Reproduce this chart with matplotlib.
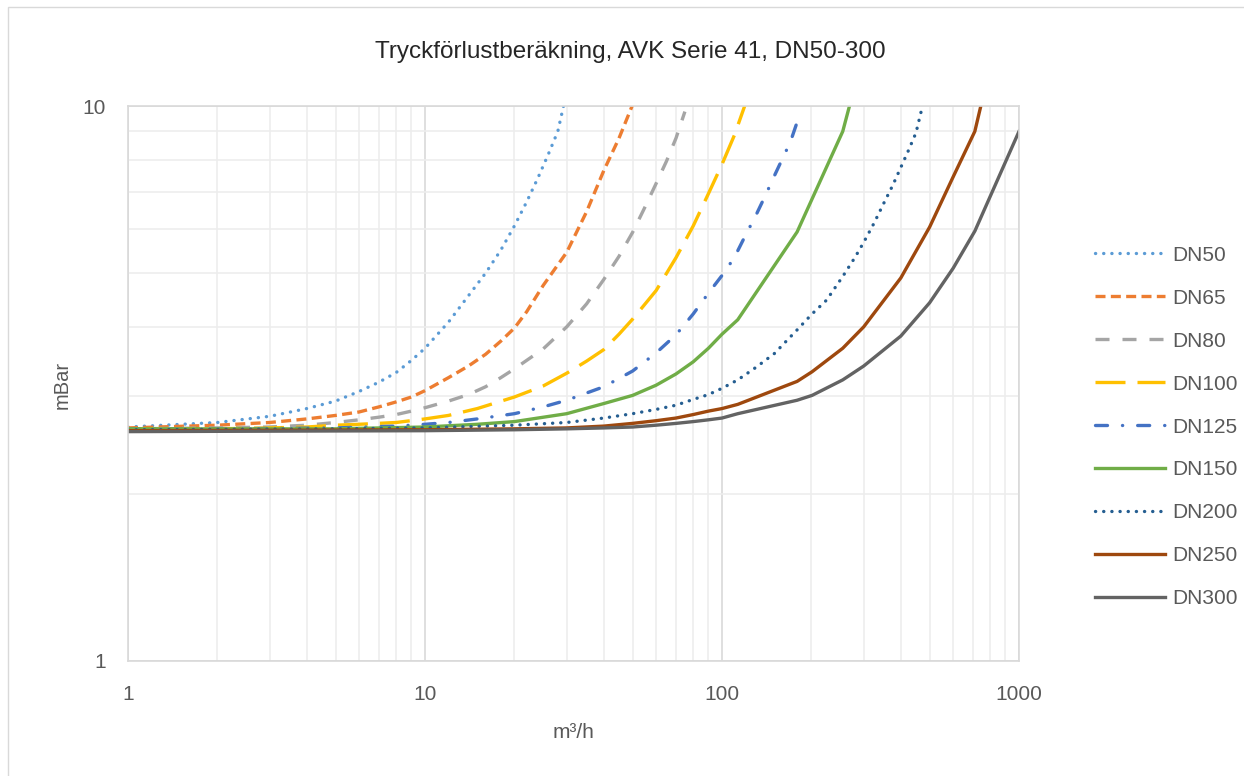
import matplotlib
matplotlib.use("Agg")
import matplotlib.pyplot as plt
from matplotlib.patches import Rectangle
from matplotlib.ticker import LogLocator, NullFormatter

plt.rcParams['font.family'] = ['Liberation Sans', 'DejaVu Sans']

# --- data (flow m3/h, pressure drop mBar) ---
names = ["DN50", "DN65", "DN80", "DN100", "DN125", "DN150", "DN200", "DN250", "DN300"]

q50 = [1, 2, 3, 4, 5, 6, 7, 8, 9, 10, 12, 14, 16, 18, 20, 22, 24, 26, 28, 30]
p50 = [2.64, 2.69, 2.76, 2.85, 2.94, 3.06, 3.18, 3.31, 3.48, 3.66, 4.08, 4.55, 5.00, 5.50,
       6.08, 6.72, 7.42, 8.18, 9.00, 10.6]

q65 = [1, 2, 3, 4, 5, 6, 7, 8, 9, 10, 12, 14, 16, 18, 20, 22, 25, 30, 35, 40, 45, 50]
p65 = [2.63, 2.66, 2.69, 2.73, 2.77, 2.81, 2.87, 2.93, 2.99, 3.07, 3.24, 3.40, 3.57, 3.77,
       3.98, 4.26, 4.75, 5.45, 6.45, 7.65, 8.75, 10.05]

q80 = [1, 2, 3, 4, 5, 6, 7, 8, 9, 10, 12, 14, 16, 18, 20, 25, 30, 35, 40, 45, 50, 55, 60,
       65, 70, 75]
p80 = [2.62, 2.63, 2.64, 2.66, 2.69, 2.72, 2.75, 2.78, 2.82, 2.86, 2.94, 3.02, 3.12, 3.24,
       3.36, 3.65, 4.00, 4.40, 4.87, 5.36, 5.92, 6.57, 7.25, 7.95, 8.75, 9.77]

q100 = [1, 2, 3, 4, 5, 6, 8, 10, 12, 15, 20, 25, 30, 35, 40, 45, 50, 60, 70, 80, 90, 100,
        110, 120]
p100 = [2.62, 2.62, 2.63, 2.64, 2.66, 2.67, 2.69, 2.73, 2.77, 2.85, 2.99, 3.13, 3.30, 3.47,
        3.64, 3.88, 4.13, 4.65, 5.33, 6.08, 6.95, 7.85, 8.85, 10.1]

q125 = [1, 2, 5, 8, 10, 12, 15, 20, 25, 30, 40, 50, 60, 70, 80, 90, 100, 110, 120, 130,
        140, 150, 160, 170, 183]
p125 = [2.62, 2.62, 2.63, 2.65, 2.67, 2.69, 2.73, 2.79, 2.87, 2.95, 3.12, 3.33, 3.59, 3.87,
        4.22, 4.60, 4.95, 5.33, 5.85, 6.35, 6.90, 7.48, 8.05, 8.62, 9.68]

q150 = [1, 5, 10, 15, 20, 30, 40, 50, 60, 70, 80, 90, 100, 113, 179, 255, 270]
p150 = [2.62, 2.62, 2.64, 2.67, 2.70, 2.79, 2.91, 3.01, 3.14, 3.29, 3.46, 3.66, 3.88, 4.12,
        5.93, 9.0, 10.1]

q200 = [1, 5, 10, 20, 30, 40, 50, 60, 70, 80, 90, 100, 113, 130, 150, 179, 201, 225, 255,
        280, 300, 325, 350, 375, 400, 425, 450, 470]
p200 = [2.61, 2.62, 2.63, 2.66, 2.69, 2.74, 2.79, 2.84, 2.89, 2.96, 3.02, 3.10, 3.21, 3.38,
        3.58, 3.95, 4.22, 4.47, 4.93, 5.33, 5.68, 6.15, 6.67, 7.18, 7.75, 8.33, 8.95, 9.85]

q250 = [1, 10, 20, 30, 40, 50, 60, 70, 80, 90, 100, 113, 179, 201, 255, 300, 400, 500, 600,
        710, 760]
p250 = [2.60, 2.61, 2.62, 2.63, 2.65, 2.68, 2.71, 2.74, 2.78, 2.82, 2.85, 2.90, 3.19, 3.32,
        3.66, 4.00, 4.90, 6.05, 7.45, 9.0, 10.5]

q300 = [1, 10, 20, 30, 40, 50, 60, 70, 80, 90, 100, 113, 179, 201, 255, 300, 400, 500, 600,
        710, 1000]
p300 = [2.59, 2.60, 2.61, 2.62, 2.63, 2.64, 2.66, 2.68, 2.70, 2.72, 2.74, 2.79, 2.95, 3.01,
        3.21, 3.40, 3.85, 4.42, 5.10, 5.95, 9.0]

flows = [q50, q65, q80, q100, q125, q150, q200, q250, q300]
drops = [p50, p65, p80, p100, p125, p150, p200, p250, p300]

# --- styles (Excel-like) ---
colors = ["#5B9BD5", "#ED7D31", "#A5A5A5", "#FFC000", "#4472C4",
          "#70AD47", "#255E91", "#9E480E", "#636363"]
dash_styles = [(0.05, 2.4), (3, 1.6), (4.2, 3.9), (9, 3.6), (3.6, 4.5, 0.05, 4.5),
               None, (0.05, 2.4), None, None]
round_caps = [True, False, False, False, True, False, True, False, False]

fig = plt.figure(figsize=(12.44, 7.76), dpi=100)
ax = fig.add_axes([128 / 1244, 1 - 661 / 776, 891 / 1244, 555 / 776])

for name, q, p, c, d, rc in zip(names, flows, drops, colors, dash_styles, round_caps):
    line, = ax.plot(q, p, color=c, lw=2.4, label=name, solid_joinstyle='round')
    if d is not None:
        line.set_dashes(d)
        line.set_dash_capstyle('round' if rc else 'butt')

ax.set_xscale('log')
ax.set_yscale('log')
ax.set_xlim(1, 1000)
ax.set_ylim(1, 10)

ax.set_xticks([1, 10, 100, 1000], labels=['1', '10', '100', '1000'])
ax.set_yticks([1, 10], labels=['1', '10'])
ax.xaxis.set_minor_locator(LogLocator(base=10, subs=range(2, 10)))
ax.yaxis.set_minor_locator(LogLocator(base=10, subs=range(2, 10)))
ax.xaxis.set_minor_formatter(NullFormatter())
ax.yaxis.set_minor_formatter(NullFormatter())
ax.tick_params(which='both', length=0, labelsize=15, colors='#595959')
ax.tick_params(axis='x', pad=17)
ax.tick_params(axis='y', pad=16)

ax.grid(which='major', color='#D9D9D9', lw=1.2)
ax.grid(which='minor', color='#EDEDED', lw=1.2)
ax.set_axisbelow(True)
for s in ax.spines.values():
    s.set_color('#D9D9D9')
    s.set_linewidth(1.2)

fig.text(630 / 1244, 1 - 52 / 776, "Tryckförlustberäkning, AVK Serie 41, DN50-300",
         ha='center', va='center', fontsize=17.5, color='#262626')
fig.text(573 / 1244, 1 - 732 / 776, "m³/h", ha='center', va='center',
         fontsize=15, color='#595959')
fig.text(62 / 1244, 1 - 385 / 776, "mBar", ha='center', va='center', rotation=90,
         fontsize=14.5, color='#595959')

fig.legend(loc='center left', bbox_to_anchor=(1085 / 1244, 1 - 427 / 776),
           frameon=False, fontsize=15, labelcolor='#595959', borderpad=0,
           handlelength=3.35, handletextpad=0.33, labelspacing=1.15)

# thin chart-area border
fig.patches.append(Rectangle((8 / 1244, -0.01), 1.0, 1 - 7 / 776 + 0.01,
                             transform=fig.transFigure, fill=False,
                             edgecolor='#D9D9D9', lw=1))

fig.savefig("out.png", dpi=100)
